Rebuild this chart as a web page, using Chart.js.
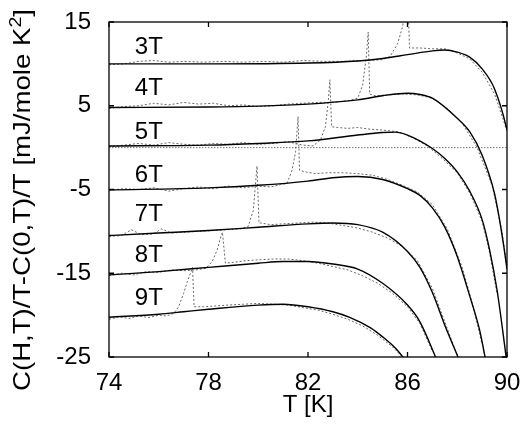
<!DOCTYPE html>
<html lang="en">
<head>
<meta charset="UTF-8">
<title>C(H,T)/T - C(0,T)/T</title>
<script src="https://cdn.jsdelivr.net/npm/chart.js"></script>
<style>
  body { margin: 0; background: #fff; }
  #wrap { width: 522px; height: 428px; }
</style>
</head>
<body>
<div id="wrap"><canvas id="chart" width="522" height="428"></canvas></div>
<script>
// fields and axis ticks
const fields = ['3T', '4T', '5T', '6T', '7T', '8T', '9T'];
const xTicks = [74, 78, 82, 86, 90];
const yTicks = [-25, -15, -5, 5, 15];

// fitted curves (solid lines)
const fit3T_T = [74, 78, 82, 84, 85, 86, 87, 87.5, 88, 88.5, 89, 89.5, 90, 90.1];
const fit3T_C = [10.0, 10.0, 10.1, 10.35, 10.65, 11.1, 11.55, 11.65, 11.4, 10.8, 9.4, 7.0, 2.1, 0.5];
const fit4T_T = [74, 78, 80, 82, 84, 85, 86, 86.5, 87, 88, 88.5, 89, 89.5, 89.75, 90, 90.1];
const fit4T_C = [4.8, 4.85, 4.95, 5.2, 5.7, 6.2, 6.5, 6.35, 5.9, 3.5, 1.9, -0.9, -5.5, -9.5, -14.5, -17];
const fit5T_T = [74, 78, 80, 82, 84, 85, 85.5, 86, 87, 87.5, 88, 88.5, 89, 89.3, 89.6, 89.9, 90.05];
const fit5T_C = [0.2, 0.3, 0.5, 0.8, 1.5, 1.8, 1.85, 1.5, -0.1, -1.3, -2.9, -5.2, -8.6, -12.2, -17.0, -23.5, -27];
const fit6T_T = [74, 78, 80, 82, 83, 84, 85, 86, 86.5, 87, 87.5, 88, 88.5, 88.9, 89.15];
const fit6T_C = [-5.05, -4.8, -4.5, -4.0, -3.6, -3.45, -3.8, -4.9, -5.7, -7.2, -9.5, -13, -17.7, -21.8, -25.5];
const fit7T_T = [74, 76, 78, 80, 82, 83, 84, 85, 86, 86.5, 87, 87.5, 88.1];
const fit7T_C = [-10.5, -10.2, -9.9, -9.5, -9.1, -9.0, -9.2, -10.1, -12.4, -14.3, -17.3, -21.2, -25.5];
const fit8T_T = [74, 76, 78, 80, 81, 82, 83, 84, 85, 86, 86.5, 87.2];
const fit8T_C = [-15.2, -14.8, -14.3, -13.8, -13.6, -13.6, -13.9, -14.5, -16.2, -18.8, -20.8, -25.5];
const fit9T_T = [74, 76, 77, 78, 80, 81, 82, 83, 83.7, 84.5, 85, 85.5, 85.9];
const fit9T_C = [-20.25, -19.9, -19.6, -19.3, -18.8, -18.7, -19.0, -19.6, -20.3, -21.5, -22.6, -23.9, -25.3];

// measured data (dotted lines)
const data3T_T = [74, 74.6, 75.2, 75.8, 76.4, 77, 77.8, 78.6, 79.4, 80.2, 81, 81.8, 82.6, 83.4, 84.2, 85, 85.3, 85.6, 85.8, 85.95, 86.02, 86.08, 86.5, 87, 87.5, 88, 88.5, 89, 89.5, 90];
const data3T_C = [9.9, 10.0, 10.3, 10.4, 10.2, 10.3, 10.2, 10.3, 10.2, 10.3, 10.2, 10.4, 10.3, 10.3, 10.4, 10.5, 10.9, 12.4, 14.4, 17.5, 17.5, 11.9, 11.9, 11.8, 11.8, 11.3, 10.6, 9.0, 6.4, 2.0];
const data4T_T = [74, 74.6, 75.2, 75.8, 76.4, 77, 77.6, 78.2, 78.8, 79.4, 80, 80.6, 81.2, 81.8, 82.4, 83, 83.6, 84.0, 84.2, 84.35, 84.42, 84.48, 84.7, 85.2, 85.8, 86.4, 87, 87.6, 88.2, 88.8, 89.4, 89.8, 90];
const data4T_C = [4.7, 4.9, 5.0, 5.3, 5.1, 5.4, 5.2, 5.3, 5.0, 5.1, 4.9, 5.0, 5.2, 5.3, 5.4, 5.4, 5.6, 5.9, 7.5, 11.0, 13.8, 6.4, 6.2, 6.3, 6.4, 6.3, 5.9, 4.7, 2.9, 0.0, -4.5, -10, -14.5];
const data5T_T = [74, 74.6, 75.2, 75.8, 76.4, 77, 77.6, 78.2, 78.8, 79.4, 80, 80.6, 81.2, 81.8, 82.2, 82.5, 82.7, 82.82, 82.88, 82.95, 83.2, 83.6, 84.0, 84.5, 85, 85.6, 86.2, 86.8, 87.4, 88, 88.5, 89, 89.3, 89.6];
const data5T_C = [0.1, 0.3, 0.5, 0.3, 0.6, 0.4, 0.3, 0.5, 0.4, 0.6, 0.4, 0.5, 0.7, 0.3, 0.2, 0.9, 2.5, 5.7, 8.1, 2.5, 2.4, 2.3, 2.4, 2.2, 2.1, 1.9, 1.2, 0.2, -1.3, -3.0, -5.4, -8.8, -12.5, -17.5];
const data6T_T = [74, 74.6, 75.2, 75.8, 76.4, 77, 77.6, 78.2, 78.8, 79.4, 80, 80.5, 80.9, 81.15, 81.35, 81.5, 81.6, 81.66, 81.9, 82.3, 82.8, 83.4, 84, 84.6, 85.2, 85.8, 86.4, 87, 87.6, 88.2, 88.6, 89.0];
const data6T_C = [-5.1, -4.9, -5.0, -4.8, -5.2, -4.9, -4.7, -4.9, -4.6, -4.8, -4.6, -4.7, -4.4, -4.3, -2.8, -0.5, 3.7, -2.7, -2.9, -3.1, -3.0, -3.0, -3.1, -3.3, -3.8, -4.5, -5.3, -6.8, -9.7, -14.3, -18.5, -23.5];
const data7T_T = [74, 74.5, 74.9, 75.3, 75.8, 76.1, 76.5, 77, 77.6, 78.2, 78.8, 79.3, 79.6, 79.8, 79.95, 80.03, 80.1, 80.5, 81, 81.6, 82.2, 82.8, 83.4, 84, 84.6, 85.2, 85.8, 86.4, 87, 87.5, 88.0];
const data7T_C = [-10.6, -10.5, -9.8, -10.4, -10.3, -9.7, -10.2, -10.1, -10.0, -9.9, -9.8, -9.7, -9.4, -7.5, -2.2, -9.0, -9.0, -9.2, -9.1, -9.0, -8.9, -9.0, -9.3, -9.6, -10.1, -10.8, -11.8, -13.5, -16.8, -20.8, -24.8];
const data8T_T = [74, 74.5, 75, 75.5, 76, 76.5, 77, 77.5, 77.9, 78.15, 78.35, 78.5, 78.56, 78.68, 79, 79.5, 80, 80.6, 81.2, 81.8, 82.4, 83, 83.6, 84.2, 84.8, 85.4, 86, 86.5, 87.0];
const data8T_C = [-15.3, -15.0, -15.2, -14.8, -14.9, -14.6, -14.7, -14.6, -14.4, -13.6, -12.2, -10.6, -10.1, -13.8, -13.7, -13.5, -13.4, -13.3, -13.3, -13.5, -13.8, -14.2, -14.6, -15.3, -16.2, -17.4, -19.0, -21.0, -24.3];
const data9T_T = [74, 74.4, 74.8, 75.2, 75.6, 76, 76.3, 76.6, 76.8, 77.0, 77.15, 77.3, 77.36, 77.42, 77.8, 78.3, 78.8, 79.4, 80, 80.6, 81.2, 81.8, 82.4, 83, 83.6, 84.2, 84.8, 85.4, 85.8];
const data9T_C = [-20.5, -20.2, -20.4, -20.1, -20.3, -20.0, -20.1, -19.8, -19.0, -17.4, -16.0, -14.8, -14.3, -19.0, -19.0, -18.9, -18.8, -18.7, -18.6, -18.7, -18.8, -19.1, -19.4, -19.9, -20.5, -21.3, -22.4, -23.8, -25];

// zero reference line
const zeroT = [74, 90];
const zeroC = [0, 0];

const fitsT = [fit3T_T, fit4T_T, fit5T_T, fit6T_T, fit7T_T, fit8T_T, fit9T_T];
const fitsC = [fit3T_C, fit4T_C, fit5T_C, fit6T_C, fit7T_C, fit8T_C, fit9T_C];
const dataT = [data3T_T, data4T_T, data5T_T, data6T_T, data7T_T, data8T_T, data9T_T];
const dataC = [data3T_C, data4T_C, data5T_C, data6T_C, data7T_C, data8T_C, data9T_C];

const toPoints = (xs, ys) => xs.map((x, i) => ({ x: x, y: ys[i] }));

const datasets = [];
fields.forEach((f, i) => {
    datasets.push({
        label: f + ' fit',
        data: toPoints(fitsT[i], fitsC[i]),
        borderColor: '#000',
        borderWidth: 1.4,
        cubicInterpolationMode: 'monotone',
        pointRadius: 0
    });
});
fields.forEach((f, i) => {
    datasets.push({
        label: f + ' data',
        data: toPoints(dataT[i], dataC[i]),
        borderColor: '#666',
        borderWidth: 1,
        borderDash: [2, 2],
        tension: 0,
        pointRadius: 0
    });
});
datasets.push({
    label: 'zero',
    data: toPoints(zeroT, zeroC),
    borderColor: '#777',
    borderWidth: 1,
    borderDash: [1.5, 1.5],
    pointRadius: 0
});

// where the field labels sit (data coordinates)
const labelT = 75.6;
const labelC = [12.0, 7.1, 1.8, -3.3, -8.0, -12.9, -18.0];

const FONT = '"Liberation Sans", Arial, sans-serif';

const frame = {
    id: 'frame',
    afterDatasetsDraw(chart) {
        const { ctx, chartArea: a, scales: { x, y } } = chart;
        ctx.save();
        ctx.strokeStyle = '#000';
        ctx.lineWidth = 1.3;
        ctx.strokeRect(a.left, a.top, a.right - a.left, a.bottom - a.top);
        ctx.beginPath();
        xTicks.forEach(v => {
            const px = x.getPixelForValue(v);
            ctx.moveTo(px, a.bottom); ctx.lineTo(px, a.bottom - 5);
            ctx.moveTo(px, a.top); ctx.lineTo(px, a.top + 5);
        });
        yTicks.forEach(v => {
            const py = y.getPixelForValue(v);
            ctx.moveTo(a.left, py); ctx.lineTo(a.left + 5, py);
            ctx.moveTo(a.right, py); ctx.lineTo(a.right - 5, py);
        });
        ctx.stroke();
        ctx.fillStyle = '#000';
        ctx.font = '24px ' + FONT;
        ctx.textAlign = 'center';
        ctx.textBaseline = 'middle';
        fields.forEach((f, i) => {
            ctx.fillText(f, x.getPixelForValue(labelT), y.getPixelForValue(labelC[i]));
        });

        // y axis title, with a raised 2
        const t1 = 'C(H,T)/T-C(0,T)/T [mJ/mole K', t2 = '2', t3 = ']';
        ctx.font = '24px ' + FONT;
        const w1 = ctx.measureText(t1).width, w3 = ctx.measureText(t3).width;
        ctx.font = '17px ' + FONT;
        const w2 = ctx.measureText(t2).width;
        const stretch = 1.15;
        ctx.translate(23, 200);
        ctx.rotate(-Math.PI / 2);
        ctx.scale(stretch, 1);
        ctx.textAlign = 'left';
        let cx = -(w1 + w2 + w3) / 2;
        ctx.font = '24px ' + FONT;
        ctx.fillText(t1, cx, 0);
        cx += w1;
        ctx.font = '17px ' + FONT;
        ctx.fillText(t2, cx, -7);
        cx += w2;
        ctx.font = '24px ' + FONT;
        ctx.fillText(t3, cx, 0);
        ctx.restore();
    }
};

Chart.defaults.font.family = FONT;
Chart.defaults.color = '#000';

new Chart(document.getElementById('chart'), {
    type: 'scatter',
    data: { datasets: datasets },
    options: {
        responsive: false,
        animation: false,
        showLine: true,
        layout: { padding: { left: 0, right: 15, top: 22, bottom: 0 } },
        plugins: { legend: { display: false }, tooltip: { enabled: false } },
        scales: {
            x: {
                type: 'linear', min: 74, max: 90,
                afterBuildTicks: s => { s.ticks = xTicks.map(v => ({ value: v })); },
                afterFit: s => { s.height = 71; s.paddingLeft = 0; s.paddingRight = 0; },
                grid: { display: false, drawTicks: false },
                border: { display: false },
                ticks: { font: { size: 24 }, padding: 12, maxRotation: 0 },
                title: { display: true, text: 'T [K]', font: { size: 24 }, padding: { top: 0, bottom: 8 } }
            },
            y: {
                type: 'linear', min: -25, max: 15,
                afterBuildTicks: s => { s.ticks = yTicks.map(v => ({ value: v })); },
                afterFit: s => { s.width = 109; s.paddingTop = 0; s.paddingBottom = 0; },
                grid: { display: false, drawTicks: false },
                border: { display: false },
                ticks: { font: { size: 24 }, padding: 18 },
                title: { display: false }
            }
        }
    },
    plugins: [frame]
});
</script>
</body>
</html>
